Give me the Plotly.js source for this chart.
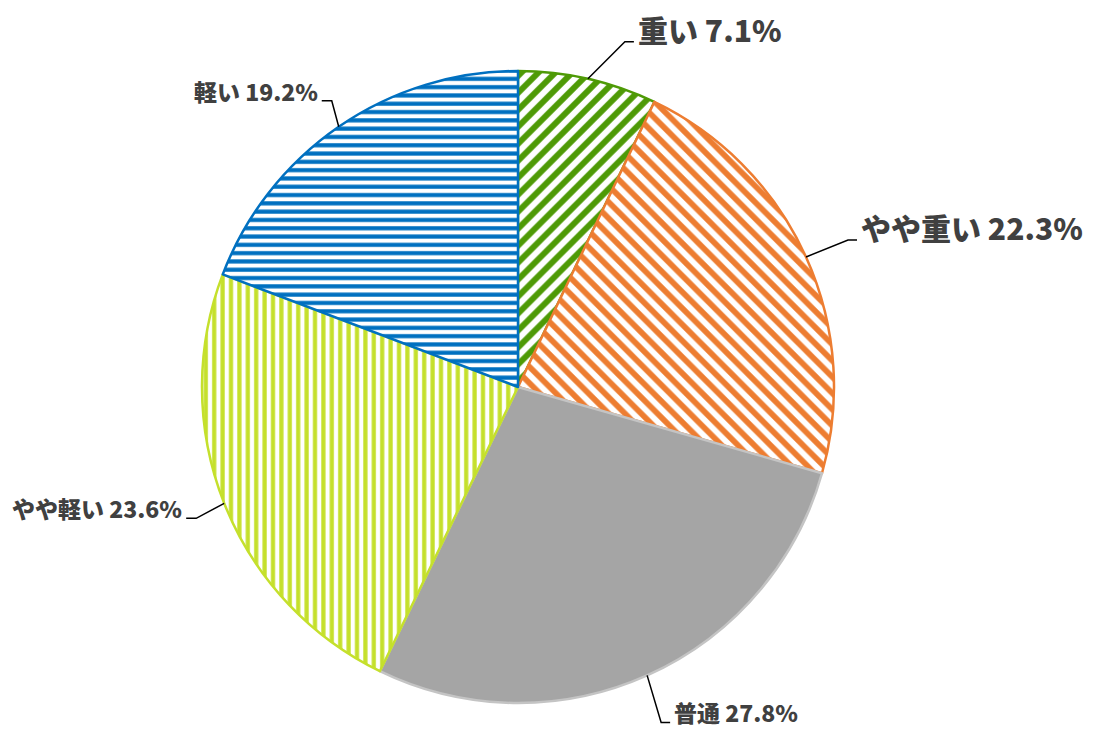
<!DOCTYPE html>
<html>
<head>
<meta charset="utf-8">
<script src="https://cdn.plot.ly/plotly-3.0.1.min.js"></script>
<style>
html,body{margin:0;padding:0;background:#fff;}
#chart{width:1099px;height:734px;}
</style>
</head>
<body>
<div id="chart"></div>
<script>
// ---- data ----
const categories = ['重い', 'やや重い', '普通', 'やや軽い', '軽い'];
const shares = [7.1, 22.3, 27.8, 23.6, 19.2];

// ---- styles ----
const sliceColors = ['#4E9A06', '#ED7D31', '#A5A5A5', '#C5E02C', '#0070C0'];
const lineColors = ['#4E9A06', '#ED7D31', '#C4C4C4', '#C5E02C', '#0070C0'];
const patternShapes = ['/', '\\', '', '|', '-'];
const patternSizes = [12, 11.5, 8, 8.4, 8.3];

const W = 1099, H = 734;
const CX = 518, CY = 387, R = 316;

// label layout: elbow offset from slice edge point, tail length, text size
const labelLayout = [
  {ex: 37, ey: -37, tail: 9, dy: -13, size: 30},
  {ex: 42, ey: -17, tail: 9, dy: -13, size: 30},
  {ex: 14, ey: 47, tail: 9, dy: -10, size: 23},
  {ex: -28, ey: 15, tail: -10, dy: -10, size: 23},
  {ex: -7, ey: -26, tail: -10, dy: -10, size: 23}
];

const total = shares.reduce((a, b) => a + b, 0);

const pie = {
  type: 'pie',
  labels: categories,
  values: shares,
  sort: false,
  direction: 'clockwise',
  rotation: 0,
  textinfo: 'none',
  hoverinfo: 'label+percent',
  showlegend: false,
  domain: {
    x: [(CX - R) / W, (CX + R) / W],
    y: [(H - CY - R) / H, (H - CY + R) / H]
  },
  marker: {
    colors: sliceColors,
    line: {color: lineColors, width: 2.5},
    pattern: {
      shape: patternShapes,
      fgcolor: sliceColors,
      bgcolor: 'white',
      size: patternSizes,
      solidity: 0.5,
      fillmode: 'replace'
    }
  }
};

const shapes = [];
const annotations = [];
let cum = 0;
shares.forEach((v, i) => {
  const mid = 2 * Math.PI * (cum + v / 2) / total;
  cum += v;
  const px = CX + R * Math.sin(mid);
  const py = CY - R * Math.cos(mid);
  const L = labelLayout[i];
  const exx = px + L.ex, eyy = py + L.ey;
  const tx = exx + L.tail;
  shapes.push({
    type: 'path', xref: 'x', yref: 'y',
    path: `M ${px},${py} L ${exx},${eyy} L ${tx},${eyy}`,
    line: {color: '#000000', width: 1.5}
  });
  const right = L.tail > 0;
  annotations.push({
    xref: 'x', yref: 'y',
    x: tx + (right ? 2 : -2),
    y: eyy + L.dy,
    xanchor: right ? 'left' : 'right',
    yanchor: 'middle',
    showarrow: false,
    text: categories[i] + ' ' + v.toFixed(1) + '%',
    font: {family: '"Noto Sans CJK JP", "Noto Sans", sans-serif', size: L.size, color: '#404040', weight: 900}
  });
});

const layout = {
  width: W, height: H,
  margin: {l: 0, r: 0, t: 0, b: 0},
  paper_bgcolor: '#ffffff',
  plot_bgcolor: 'rgba(0,0,0,0)',
  xaxis: {range: [0, W], visible: false, fixedrange: true},
  yaxis: {range: [H, 0], visible: false, fixedrange: true},
  shapes: shapes,
  annotations: annotations,
  showlegend: false
};

Plotly.newPlot('chart', [pie], layout, {displayModeBar: false, staticPlot: true});
</script>
</body>
</html>
